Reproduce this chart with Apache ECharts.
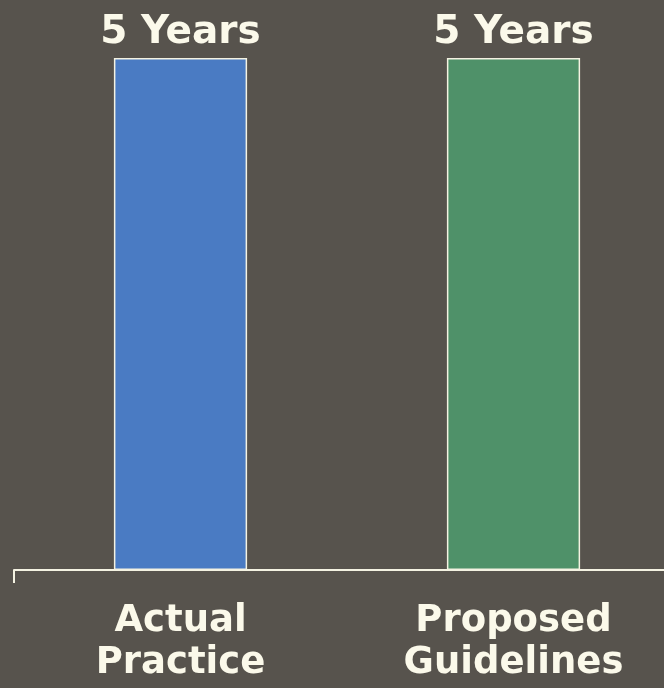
<!DOCTYPE html>
<html><head><meta charset="utf-8">
<script src="https://cdn.jsdelivr.net/npm/echarts@6/dist/echarts.min.js"></script>
<style>html,body{margin:0;padding:0;background:#57534d;}#c{width:664px;height:688px;}</style>
</head><body><div id="c"></div>
<script>
const categories = ['Actual\nPractice', 'Proposed\nGuidelines'];
const values = [5, 5];
const valueLabels = ['5 Years', '5 Years'];
const barColors = ['#4a7bc3', '#4f9169'];

const chart = echarts.init(document.getElementById('c'), null, {renderer: 'canvas'});
chart.setOption({
  backgroundColor: '#57534d',
  animation: false,
  grid: {left: 14, width: 666, top: 58, bottom: 118, containLabel: false, outerBoundsMode: 'none'},
  xAxis: {
    type: 'category',
    data: categories,
    axisLine: {show: true, lineStyle: {color: '#f4f2e2', width: 2}},
    axisTick: {show: true, length: 13, interval: function (i) { return i === 0; }, lineStyle: {color: '#f4f2e2', width: 2}},
    axisLabel: {color: '#fbf9ea', fontFamily: 'DejaVu Sans', fontWeight: 'bold', fontSize: 37, lineHeight: 42, margin: 30}
  },
  yAxis: {type: 'value', min: 0, max: 5, show: false, splitLine: {show: false}},
  series: [{
    type: 'bar',
    barWidth: '40%',
    data: values.map((v, i) => ({value: v, itemStyle: {color: barColors[i]}})),
    itemStyle: {borderColor: '#f4f2e2', borderWidth: 1.5},
    label: {
      show: true, position: 'top', distance: 6,
      formatter: p => valueLabels[p.dataIndex],
      color: '#fbf9ea', fontFamily: 'DejaVu Sans', fontWeight: 'bold', fontSize: 39
    }
  }]
});
</script></body></html>
